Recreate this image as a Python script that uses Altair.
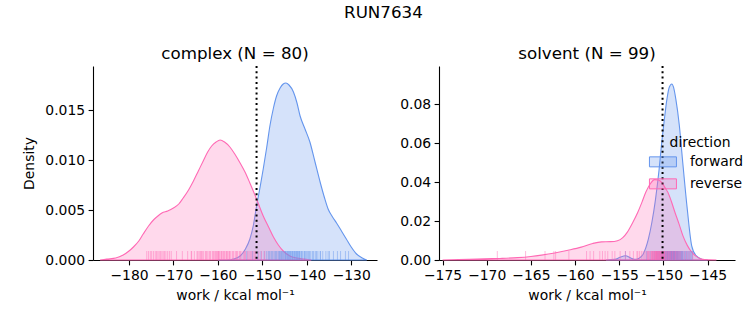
import altair as alt
import pandas as pd

FONT = "DejaVu Sans"
DIRS = ["forward", "reverse"]
COLORS = ["#6495ED", "#FF69B4"]
FILLS = ["rgba(100,149,237,0.27)", "rgba(255,105,180,0.25)"]

# ---- complex: KDE curves ----
cx_fwd_x = [-160.0, -158.0, -156.5, -155.0, -153.8, -152.8, -152.0, -151.3, -150.5, -149.8,
            -149.0, -148.3, -147.5, -146.8, -146.0, -145.3, -144.7, -144.0, -143.0, -142.2,
            -141.5, -140.4, -139.3, -138.2, -137.0, -136.0, -135.2, -134.2, -133.3, -132.2,
            -131.1, -130.0, -128.8, -127.5, -126.5]
cx_fwd_y = [0.0, 0.0, 0.0001, 0.0004, 0.0011, 0.0021, 0.0035, 0.0054, 0.0073, 0.0091,
            0.0113, 0.0134, 0.0152, 0.0164, 0.0172, 0.0176, 0.0177, 0.0175, 0.0168, 0.0157,
            0.0144, 0.0131, 0.0118, 0.0099, 0.0078, 0.0062, 0.0051, 0.0043, 0.0037, 0.0029,
            0.0021, 0.0013, 0.0006, 0.0002, 0.0]
cx_rev_x = [-186.5, -185.0, -183.0, -181.3, -180.0, -179.0, -177.8, -176.8, -175.6, -174.5,
            -173.5, -172.6, -171.3, -170.0, -168.8, -167.8, -166.6, -165.5, -164.4, -163.3,
            -162.3, -161.4, -160.4, -159.5, -158.5, -157.3, -156.2, -155.0, -153.9, -152.8,
            -151.3, -149.8, -148.6, -147.5, -146.4, -145.3, -143.8, -142.3, -140.5, -139.0]
cx_rev_y = [0.0, 0.0001, 0.0002, 0.0005, 0.0009, 0.0013, 0.0019, 0.0026, 0.0034, 0.0040,
            0.0044, 0.0047, 0.0049, 0.0052, 0.0056, 0.0062, 0.0070, 0.0079, 0.0089, 0.0099,
            0.0108, 0.0114, 0.0118, 0.0120, 0.0118, 0.0113, 0.0106, 0.0097, 0.0088, 0.0077,
            0.0061, 0.0044, 0.0033, 0.0023, 0.0015, 0.0009, 0.0004, 0.0002, 0.0001, 0.0]

# ---- solvent: KDE curves ----
sv_fwd_x = [-156.5, -155.5, -154.9, -154.3, -153.7, -153.3, -152.8, -152.3, -151.7, -151.3,
            -150.9, -150.5, -150.2, -149.9, -149.6, -149.35, -149.05, -148.85, -148.6, -148.2,
            -147.85, -147.3, -146.8, -146.3, -145.6, -145.0]
sv_fwd_y = [0.0, 0.0003, 0.0014, 0.0022, 0.0010, 0.0003, 0.0008, 0.0030, 0.0108, 0.0195,
            0.0310, 0.0460, 0.0600, 0.0720, 0.0826, 0.0885, 0.0903, 0.0885, 0.0826, 0.0690,
            0.0518, 0.0260, 0.0073, 0.0022, 0.0003, 0.0]
sv_rev_x = [-175.0, -174.0, -172.0, -170.2, -168.5, -166.5, -165.0, -163.8, -162.3, -160.8,
            -159.3, -158.0, -157.0, -156.0, -155.2, -154.6, -154.1, -153.5, -152.9, -152.4,
            -152.0, -151.5, -151.0, -150.6, -150.2, -149.8, -149.5, -149.1, -148.7, -148.2,
            -147.8, -147.3, -146.8, -146.2, -145.7, -144.8, -144.0]
sv_rev_y = [0.0, 0.0001, 0.0003, 0.0006, 0.0008, 0.0012, 0.0018, 0.0025, 0.0036, 0.0050,
            0.0066, 0.0085, 0.0093, 0.0094, 0.0099, 0.0115, 0.0142, 0.0190, 0.0245, 0.0300,
            0.0347, 0.0390, 0.0412, 0.0410, 0.0398, 0.0370, 0.0347, 0.0300, 0.0245, 0.0180,
            0.0125, 0.0075, 0.0040, 0.0016, 0.0005, 0.0001, 0.0]

# ---- rug samples (estimated) ----
cx_fwd_rug = [-153.5, -152.2, -151.0, -150.3, -149.6, -149.1, -148.7, -148.3, -148.0, -147.6,
              -147.3, -147.0, -146.7, -146.4, -146.1, -145.9, -145.6, -145.4, -145.1, -144.9,
              -144.7, -144.5, -144.3, -144.1, -143.9, -143.7, -143.5, -143.3, -143.1, -142.9,
              -142.7, -142.5, -142.3, -142.1, -141.9, -141.7, -141.5, -141.2, -140.9, -140.6,
              -140.3, -140.0, -139.6, -139.2, -138.8, -138.4, -138.0, -137.5, -137.0, -136.4,
              -135.7, -134.9, -134.0, -133.1, -132.4, -131.3, -130.6, -147.8, -146.9, -146.2,
              -145.7, -145.3, -144.8, -144.4, -144.0, -143.6, -143.2, -142.8, -142.4, -142.0,
              -141.6, -141.1, -140.5, -139.9, -139.4, -138.6, -137.8, -136.9, -135.2, -148.5]
cx_rev_rug = [-176.0, -175.2, -174.5, -173.8, -173.2, -172.6, -172.0, -171.3, -170.5, -169.3,
              -168.0, -166.8, -166.0, -165.3, -164.7, -164.2, -163.7, -163.2, -162.8, -162.4,
              -162.0, -161.6, -161.2, -160.8, -160.5, -160.2, -159.9, -159.6, -159.3, -159.0,
              -158.7, -158.4, -158.1, -157.8, -157.5, -157.2, -156.8, -156.4, -156.0, -155.6,
              -155.2, -154.8, -154.3, -153.8, -153.3, -152.7, -152.1, -151.5, -150.8, -150.2,
              -175.6, -174.9, -174.1, -173.5, -172.9, -172.3, -171.7, -170.9, -165.9, -164.5,
              -163.5, -162.6, -161.8, -161.0, -160.4, -159.8, -159.2, -158.6, -158.0, -157.4,
              -156.6, -155.8, -155.0, -154.0, -153.0, -152.4, -151.8, -149.5, -163.9, -160.0]
sv_fwd_rug = [-154.3, -151.9, -151.5, -151.2, -151.0, -150.8, -150.7, -150.6, -150.5, -150.4,
              -150.3, -150.25, -150.2, -150.1, -150.05, -150.0, -149.95, -149.9, -149.85, -149.8,
              -149.75, -149.7, -149.65, -149.6, -149.55, -149.5, -149.45, -149.4, -149.35, -149.3,
              -149.28, -149.25, -149.22, -149.2, -149.17, -149.15, -149.12, -149.1, -149.07, -149.05,
              -149.02, -149.0, -148.97, -148.95, -148.92, -148.9, -148.87, -148.85, -148.82, -148.8,
              -148.77, -148.75, -148.72, -148.7, -148.65, -148.6, -148.55, -148.5, -148.45, -148.4,
              -148.35, -148.3, -148.25, -148.2, -148.15, -148.1, -148.05, -148.0, -147.95, -147.9,
              -147.85, -147.8, -147.7, -147.6, -147.5, -147.4, -147.3, -147.2, -147.1, -147.0,
              -146.9, -146.8, -146.7, -149.62, -149.48, -149.38, -149.18, -149.08, -148.98, -148.88,
              -148.78, -148.68, -148.58, -148.48, -148.38, -150.15, -149.92, -149.72, -149.58]
sv_rev_rug = [-168.8, -165.6, -163.4, -162.4, -162.2, -160.7, -158.7, -158.3, -157.9, -157.2,
              -156.9, -156.6, -156.3, -155.8, -155.5, -154.9, -154.3, -153.8, -153.4, -153.0,
              -152.7, -152.5, -152.3, -152.1, -151.95, -151.8, -151.7, -151.6, -151.5, -151.4,
              -151.3, -151.25, -151.2, -151.1, -151.05, -151.0, -150.95, -150.9, -150.85, -150.8,
              -150.75, -150.7, -150.65, -150.6, -150.55, -150.5, -150.45, -150.4, -150.35, -150.3,
              -150.25, -150.2, -150.15, -150.1, -150.05, -150.0, -149.95, -149.9, -149.85, -149.8,
              -149.7, -149.6, -149.5, -149.4, -149.3, -149.2, -149.1, -149.0, -148.9, -148.8,
              -148.7, -148.6, -148.5, -148.4, -148.3, -148.2, -148.0, -147.8, -147.6, -147.4,
              -147.2, -147.0, -146.7, -151.35, -151.15, -150.88, -150.62, -150.42, -150.18, -149.88,
              -149.65, -149.45, -149.25, -148.95, -148.65, -148.1, -152.9, -151.75, -150.78]

cx_line = -151.3
sv_line = -150.1

cx_xticks = [-180, -170, -160, -150, -140, -130]
sv_xticks = [-175, -170, -165, -160, -155, -150, -145]
cx_yticks = [0.0, 0.005, 0.010, 0.015]
sv_yticks = [0.0, 0.02, 0.04, 0.06, 0.08]


def curves(fx, fy, rx, ry):
    return pd.DataFrame({
        "work": fx + rx,
        "density": fy + ry,
        "direction": ["forward"] * len(fx) + ["reverse"] * len(rx),
    })


def rugs(f, r):
    return pd.DataFrame({
        "work": f + r,
        "direction": ["forward"] * len(f) + ["reverse"] * len(r),
    })


H = 194
XTITLE = "work / kcal mol⁻¹"


def panel(cdf, rdf, vline, xdom, ydom, xticks, yticks, yfmt, title, w, ytitle, legend):
    xs = alt.Scale(domain=xdom, nice=False, zero=False)
    ys = alt.Scale(domain=ydom, nice=False)
    cs = alt.Scale(domain=DIRS, range=COLORS)
    fs = alt.Scale(domain=DIRS, range=FILLS)
    xax = alt.Axis(values=xticks, format="d", title=XTITLE)
    yax = alt.Axis(values=yticks, format=yfmt, title=ytitle)
    area = alt.Chart(cdf).mark_area(
        interpolate="monotone", strokeWidth=1.1, strokeOpacity=1
    ).encode(
        x=alt.X("work:Q", scale=xs, axis=xax),
        y=alt.Y("density:Q", scale=ys, axis=yax, stack=None),
        fill=alt.Fill("direction:N", scale=fs, legend=legend),
        stroke=alt.Stroke("direction:N", scale=cs, legend=legend),
    )
    rug = alt.Chart(rdf).mark_rule(strokeWidth=1, opacity=0.45).encode(
        x=alt.X("work:Q", scale=xs),
        y=alt.value(H),
        y2=alt.value(H - 9),
        color=alt.Color("direction:N", scale=cs, legend=None),
    )
    vl = alt.Chart(pd.DataFrame({"work": [vline]})).mark_rule(
        color="black", strokeDash=[2, 3.3], strokeWidth=2
    ).encode(x=alt.X("work:Q", scale=xs))
    return alt.layer(area, rug, vl).properties(
        width=w, height=H,
        title=alt.TitleParams(title, fontSize=16.7, font=FONT, fontWeight="normal", offset=2),
    )


sym = "M-2.7,-1L2.7,-1L2.7,1L-2.7,1Z"
leg = alt.Legend(
    title="direction", orient="none", legendX=217, legendY=70,
    symbolType=sym, symbolSize=100, symbolStrokeWidth=1, symbolOpacity=1,
    labelFontSize=13.9, titleFontSize=13.9, titleFontWeight="normal",
    labelFont=FONT, titleFont=FONT, labelOffset=20, rowPadding=7,
    titleAnchor="middle", titlePadding=5, labelColor="black", titleColor="black",
)

left = panel(curves(cx_fwd_x, cx_fwd_y, cx_rev_x, cx_rev_y), rugs(cx_fwd_rug, cx_rev_rug),
             cx_line, [-188.1, -124.2], [0, 0.0194], cx_xticks, cx_yticks, ".3f",
             "complex (N = 80)", 284, "Density", None)
right = panel(curves(sv_fwd_x, sv_fwd_y, sv_rev_x, sv_rev_y), rugs(sv_fwd_rug, sv_rev_rug),
              sv_line, [-175.4, -141.9], [0, 0.0995], sv_xticks, sv_yticks, ".2f",
              "solvent (N = 99)", 296, "", leg)

chart = alt.hconcat(left, right, spacing=22).resolve_scale(
    x="independent", y="independent", color="independent", stroke="independent",
    fill="independent",
).properties(
    title=alt.TitleParams("RUN7634", fontSize=16.7, font=FONT, fontWeight="normal", anchor="middle", offset=25),
    padding={"left": 22, "top": 4, "right": 0, "bottom": 0},
).configure(
    font=FONT,
).configure_view(
    stroke=None,
).configure_axis(
    grid=False, labelFont=FONT, titleFont=FONT, labelFontSize=13.9, titleFontSize=13.9,
    titleFontWeight="normal", labelColor="black", titleColor="black",
    tickColor="black", domainColor="black", tickSize=4.9, labelPadding=3.5,
    domainWidth=1.1, tickWidth=1.1,
).configure_axisY(
    titlePadding=8,
).configure_axisX(
    titlePadding=6,
).configure_title(
    color="black",
)

chart.save("out.html", embed_options={"renderer": "svg", "actions": False})
